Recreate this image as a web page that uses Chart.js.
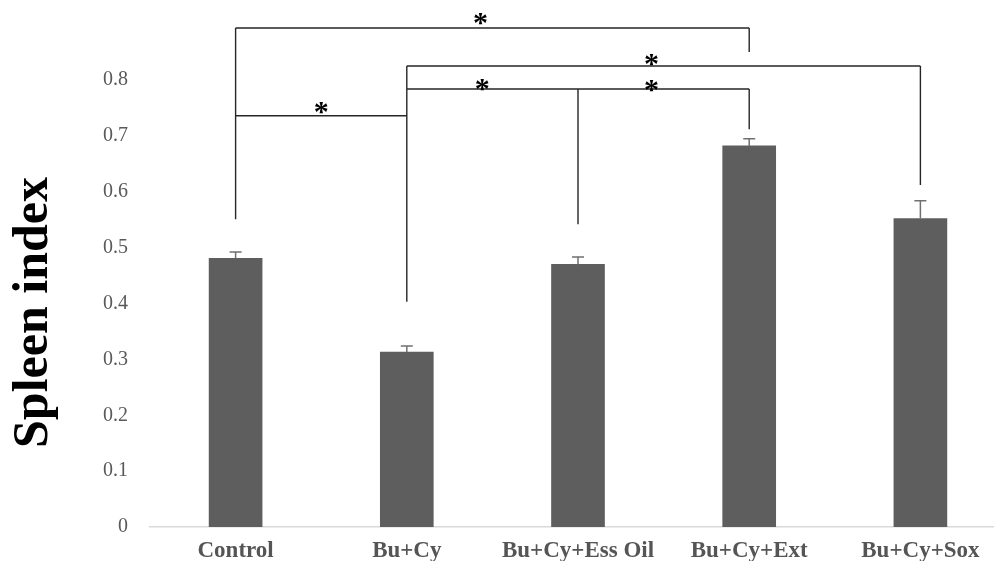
<!DOCTYPE html>
<html>
<head>
<meta charset="utf-8">
<script src="https://cdn.jsdelivr.net/npm/chart.js@4/dist/chart.umd.min.js"></script>
<style>
  html, body { margin: 0; padding: 0; background: #ffffff; overflow: hidden; }
  #wrap { width: 1010px; height: 561px; }
</style>
</head>
<body>
<div id="wrap"><canvas id="c" width="1010" height="561"></canvas></div>
<script>
// ---- data ----
const categories = ['Control', 'Bu+Cy', 'Bu+Cy+Ess Oil', 'Bu+Cy+Ext', 'Bu+Cy+Sox'];
const spleenIndex = [0.481, 0.313, 0.470, 0.682, 0.552];
const spleenError = [0.011, 0.011, 0.013, 0.013, 0.032];
const yTickValues = [0, 0.1, 0.2, 0.3, 0.4, 0.5, 0.6, 0.7, 0.8];
const yAxisTitle = 'Spleen index';

// significance brackets (category index, value units)
const bracketSpans = [      // [fromIndex, toIndex, level]
  [0, 3, 0.893],
  [1, 4, 0.825],
  [1, 3, 0.784],
  [0, 1, 0.736]
];
const bracketLegs = [       // [index, fromLevel, toLevel]
  [0, 0.893, 0.551],
  [3, 0.893, 0.850],
  [1, 0.825, 0.403],
  [4, 0.825, 0.612],
  [2, 0.784, 0.542],
  [3, 0.784, 0.712]
];
const starMarks = [         // [fractional index, level]
  [1.43, 0.911],
  [0.50, 0.752],
  [1.44, 0.793],
  [2.43, 0.838],
  [2.43, 0.791]
];

const overlayPlugin = {
  id: 'overlay',
  afterDatasetsDraw(chart) {
    const ctx = chart.ctx;
    const xs = chart.scales.x, ys = chart.scales.y;
    ctx.save();
    // error bars
    ctx.strokeStyle = '#707070';
    ctx.lineWidth = 1.5;
    spleenIndex.forEach((v, i) => {
      const px = xs.getPixelForValue(i);
      const y0 = ys.getPixelForValue(v);
      const y1 = ys.getPixelForValue(v + spleenError[i]);
      ctx.beginPath();
      ctx.moveTo(px, y0);
      ctx.lineTo(px, y1);
      ctx.moveTo(px - 6, y1);
      ctx.lineTo(px + 6, y1);
      ctx.stroke();
    });
    // brackets
    ctx.strokeStyle = '#262626';
    ctx.lineWidth = 1.4;
    ctx.beginPath();
    bracketSpans.forEach(([a, b, lv]) => {
      const yy = ys.getPixelForValue(lv);
      ctx.moveTo(xs.getPixelForValue(a), yy);
      ctx.lineTo(xs.getPixelForValue(b), yy);
    });
    bracketLegs.forEach(([i, l0, l1]) => {
      const px = xs.getPixelForValue(i);
      ctx.moveTo(px, ys.getPixelForValue(l0));
      ctx.lineTo(px, ys.getPixelForValue(l1));
    });
    ctx.stroke();
    // stars
    ctx.fillStyle = '#000000';
    ctx.font = 'bold 30px "Liberation Serif", serif';
    ctx.textAlign = 'center';
    ctx.textBaseline = 'alphabetic';
    starMarks.forEach(([fi, lv]) => {
      const px = xs.getPixelForValue(fi);
      const py = ys.getPixelForValue(lv);
      ctx.fillText('*', px, py + 14);
    });
    // y-axis title, centred on the value-axis region of the figure
    const midY = (ys.getPixelForValue(0) + ys.getPixelForValue(0.8)) / 2 + 9;
    ctx.translate(34, midY);
    ctx.rotate(-Math.PI / 2);
    ctx.font = 'bold 50px "Liberation Serif", serif';
    ctx.textAlign = 'center';
    ctx.textBaseline = 'middle';
    ctx.fillText(yAxisTitle, 0, 0);
    ctx.restore();
  }
};

new Chart(document.getElementById('c'), {
  type: 'bar',
  data: {
    labels: categories,
    datasets: [{
      data: spleenIndex,
      backgroundColor: '#5e5e5e',
      borderWidth: 0,
      barThickness: 53
    }]
  },
  options: {
    responsive: false,
    animation: false,
    devicePixelRatio: 1,
    layout: { padding: { top: 80, right: 4, left: 0, bottom: 0 } },
    plugins: { legend: { display: false }, tooltip: { enabled: false } },
    scales: {
      x: {
        grid: { display: false, drawTicks: false },
        border: { display: true, color: '#d9d9d9', width: 1.5 },
        ticks: {
          color: '#555555',
          padding: 10,
          maxRotation: 0,
          autoSkip: false,
          font: { family: '"Liberation Serif", serif', size: 23, weight: 'bold', lineHeight: 1.2 }
        },
        afterFit(scale) { scale.height = 34; }
      },
      y: {
        min: 0,
        max: 0.8,
        grid: { display: false, drawTicks: false },
        border: { display: false },
        afterBuildTicks(scale) { scale.ticks = yTickValues.map(v => ({ value: v })); },
        ticks: {
          color: '#595959',
          padding: 22,
          callback: v => String(+Number(v).toFixed(1)),
          font: { family: '"Liberation Serif", serif', size: 20, lineHeight: 1.2 }
        },
        afterFit(scale) { scale.width = 150; }
      }
    }
  },
  plugins: [overlayPlugin]
});
</script>
</body>
</html>
